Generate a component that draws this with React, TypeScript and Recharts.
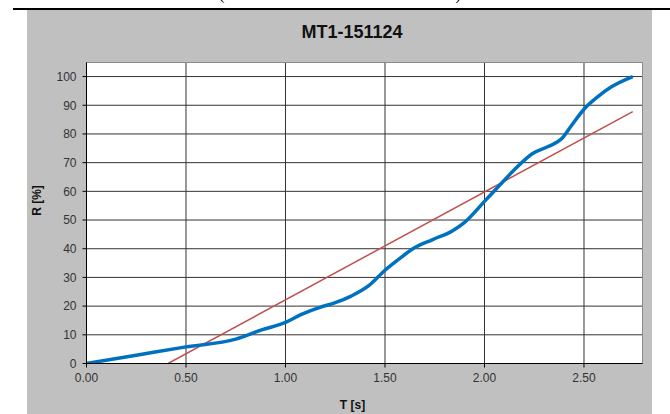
import React from "react";
import {
  LineChart,
  Line,
  XAxis,
  YAxis,
  CartesianGrid,
  ReferenceLine,
} from "recharts";

const blueT = [0, 0.25, 0.5, 0.75, 0.88, 1.0, 1.08, 1.17, 1.25, 1.33, 1.42, 1.5, 1.57, 1.64, 1.74, 1.84, 1.9, 2.0, 2.07, 2.15, 2.24, 2.32, 2.39, 2.44, 2.5, 2.57, 2.64, 2.745];
const blueR = [0, 2.9, 5.8, 8.5, 11.7, 14.3, 17.1, 19.5, 21.2, 23.5, 27.2, 32.5, 36.4, 40.0, 43.2, 46.3, 49.2, 56.5, 61.7, 67.5, 73.1, 75.6, 78.5, 83.2, 88.6, 93.0, 96.5, 100];
const redT = [0.41, 2.745];
const redR = [0, 87.8];
const xTicks = [0, 0.5, 1.0, 1.5, 2.0, 2.5];
const yTicks = [0, 10, 20, 30, 40, 50, 60, 70, 80, 90, 100];
const title = "MT1-151124";
const xTitle = "T [s]";
const yTitle = "R [%]";

const X_MAX = 2.794;
const Y_MAX = 104.9;

const blueData = blueT.map((t, i) => ({ t, r: blueR[i] }));
const redData = redT.map((t, i) => ({ t, r: redR[i] }));

const FONT = "'Liberation Sans', Arial, sans-serif";

export default function App() {
  return (
    <div style={{ position: "absolute", left: 0, top: 0, width: 670, height: 414, overflow: "hidden", background: "#fff" }}>
      <div style={{ position: "absolute", left: 13, top: 8, width: 657, height: 2, background: "#000" }} />
      <div style={{ position: "absolute", left: 27, top: 10, width: 625, height: 404, background: "#c0c0c0" }} />
      <div style={{ position: "absolute", left: 0, top: 0 }}>
        <LineChart
          width={670}
          height={414}
          margin={{ top: 62.5, right: 27.5, bottom: 20.5, left: 26.5 }}
        >
          <CartesianGrid stroke="#333" fill="#fff" horizontalValues={yTicks} verticalValues={xTicks} />
          <XAxis
            type="number"
            dataKey="t"
            domain={[0, X_MAX]}
            ticks={xTicks}
            tickFormatter={(v: number) => v.toFixed(2)}
            allowDataOverflow
            height={30}
            tickSize={4}
            tickMargin={6}
            axisLine={{ stroke: "#000" }}
            tickLine={{ stroke: "#000" }}
            tick={{ fill: "#333", fontSize: 12, fontFamily: FONT }}
          />
          <YAxis
            type="number"
            dataKey="r"
            domain={[0, Y_MAX]}
            ticks={yTicks}
            allowDataOverflow
            width={60}
            tickSize={4}
            tickMargin={6}
            axisLine={{ stroke: "#000" }}
            tickLine={{ stroke: "#000" }}
            tick={{ fill: "#333", fontSize: 12, fontFamily: FONT }}
          />
          <ReferenceLine y={Y_MAX} stroke="#8a8a8a" />
          <ReferenceLine x={X_MAX} stroke="#8a8a8a" />
          <Line
            data={redData}
            dataKey="r"
            type="linear"
            stroke="#c0504d"
            strokeWidth={1.5}
            dot={false}
            isAnimationActive={false}
          />
          <Line
            data={blueData}
            dataKey="r"
            type="monotone"
            stroke="#0070c0"
            strokeWidth={3.5}
            dot={false}
            isAnimationActive={false}
          />
        </LineChart>
      </div>
      <svg width={670} height={414} style={{ position: "absolute", left: 0, top: 0, pointerEvents: "none" }}>
        <text x={222} y={0} fontFamily="'Liberation Serif', serif" fontSize={15} textAnchor="middle">(</text>
        <text x={458} y={0} fontFamily="'Liberation Serif', serif" fontSize={15} textAnchor="middle">)</text>
        <text x={352} y={38} fontFamily={FONT} fontSize={18} fontWeight="bold" textAnchor="middle" fill="#111">{title}</text>
        <text x={352.5} y={409} fontFamily={FONT} fontSize={12} fontWeight="bold" textAnchor="middle" fill="#111">{xTitle}</text>
        <text x={0} y={0} transform="translate(41,200.5) rotate(-90)" fontFamily={FONT} fontSize={12} fontWeight="bold" textAnchor="middle" fill="#111">{yTitle}</text>
      </svg>
    </div>
  );
}
